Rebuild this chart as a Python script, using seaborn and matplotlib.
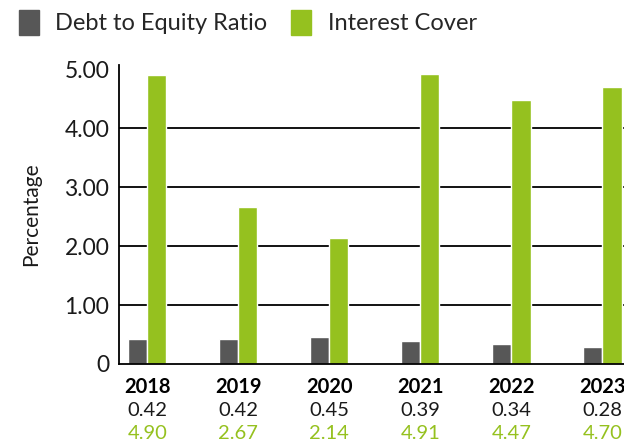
import matplotlib
matplotlib.use("Agg")
import matplotlib.pyplot as plt
import seaborn as sns
import pandas as pd

years = ["2018", "2019", "2020", "2021", "2022", "2023"]
debt_equity = [0.42, 0.42, 0.45, 0.39, 0.34, 0.28]
interest_cover = [4.90, 2.67, 2.14, 4.91, 4.47, 4.70]
series_names = ["Debt to Equity Ratio", "Interest Cover"]
yticks = [0, 1, 2, 3, 4, 5]
ytick_labels = ["0", "1.00", "2.00", "3.00", "4.00", "5.00"]

dark = "#575757"
green = "#95C11F"

df = pd.DataFrame({
    "Year": years * 2,
    "Value": debt_equity + interest_cover,
    "Series": [series_names[0]] * len(years) + [series_names[1]] * len(years),
})

sns.set_style("white")
plt.rcParams["font.family"] = ["Lato", "DejaVu Sans"]

fig = plt.figure(figsize=(6.24, 4.46), dpi=100)
ax = fig.add_axes([119 / 624, (446 - 364) / 446, 529 / 624, 299 / 446])

sns.barplot(data=df, x="Year", y="Value", hue="Series", palette=[dark, green],
            width=0.42, saturation=1, ax=ax, legend=False)

ax.set_xlim(-0.31, 5.5)
ax.set_ylim(0, 5.07)
ax.set_yticks(yticks)
ax.set_yticklabels(ytick_labels, fontsize=16.5, color="#1a1a1a")
ax.tick_params(axis="y", length=0, pad=7)
ax.set_xticks(range(len(years)))
ax.set_xticklabels([])
ax.tick_params(axis="x", length=0)
ax.set_xlabel("")
ax.set_ylabel("Percentage", fontsize=15, color="#1a1a1a")
ax.yaxis.set_label_coords(-0.148, 0.5)

ax.set_axisbelow(True)
ax.yaxis.grid(True, color="black", linewidth=1.3)
gl = ax.yaxis.get_gridlines()
gl[0].set_visible(False)
gl[-1].set_visible(False)

sns.despine(ax=ax, top=True, right=True)
for side in ["left", "bottom"]:
    ax.spines[side].set_color("black")
    ax.spines[side].set_linewidth(1.3)

tr = ax.get_xaxis_transform()
for i, yr in enumerate(years):
    ax.text(i, -0.077, yr, transform=tr, ha="center", va="center",
            fontsize=14.5, fontweight="bold", color="black", clip_on=False)
    ax.text(i, -0.157, f"{debt_equity[i]:.2f}", transform=tr, ha="center", va="center",
            fontsize=14.5, color="#1a1a1a", clip_on=False)
    ax.text(i, -0.231, f"{interest_cover[i]:.2f}", transform=tr, ha="center", va="center",
            fontsize=14.5, color=green, clip_on=False)

handles = [plt.Rectangle((0, 0), 1, 1, color=dark), plt.Rectangle((0, 0), 1, 1, color=green)]
fig.legend(handles, series_names, loc="upper left", bbox_to_anchor=(0.03, 0.978),
           ncol=2, frameon=False, fontsize=17, handlelength=0.85, handleheight=1.25,
           handletextpad=0.7, columnspacing=1.0, borderaxespad=0, borderpad=0)

fig.savefig("out.png", dpi=100)
